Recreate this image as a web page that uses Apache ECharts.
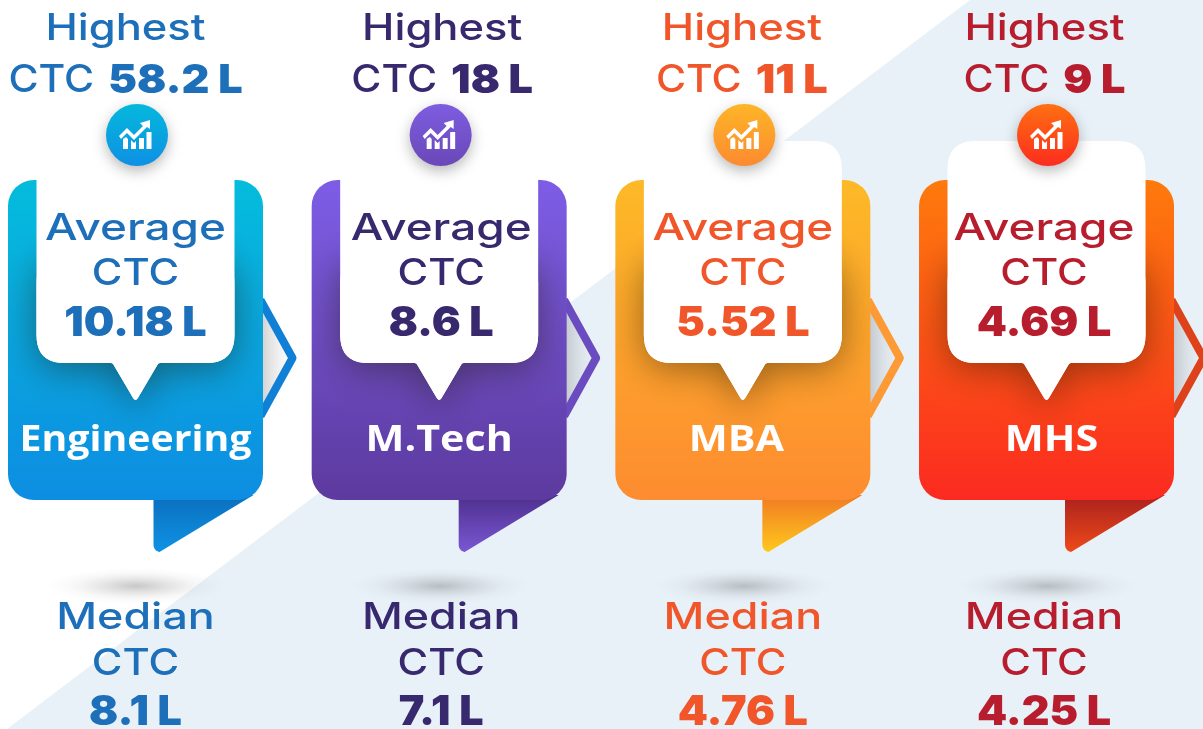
<!DOCTYPE html>
<html><head><meta charset="utf-8">
<style>html,body{margin:0;padding:0;background:#fff}#c{width:1203px;height:729px}</style>
<script src="https://cdn.jsdelivr.net/npm/echarts@6/dist/echarts.min.js"></script>
</head><body><div id="c"></div>
<script>
const categories = ['Engineering', 'M.Tech', 'MBA', 'MHS'];
const highestCTC = [58.2, 18, 11, 9];
const averageCTC = [10.18, 8.6, 5.52, 4.69];
const medianCTC = [8.1, 7.1, 4.76, 4.25];
const textColors = ['#1c6fb8', '#38296f', '#f0562a', '#b81d2e'];
const cardTop = ['#04bcdc', '#7d5de6', '#fdb927', '#fe7a0c'];
const cardBottom = ['#0d8de2', '#5c3a9e', '#fd8c30', '#fb2a20'];
const tailTop = ['#0a6fbd', '#4d2f8c', '#f07a25', '#aa201f'];
const tailBottom = ['#0f92e4', '#7a57d4', '#ffc81c', '#ee4a18'];
const chevronColors = ['#0f80d6', '#6b4cc0', '#fd9a35', '#de421a'];
const iconTop = ['#05b8dc', '#7d5de0', '#fdb527', '#fe7012'];
const iconBottom = ['#0e90e4', '#6a48b8', '#fd8a30', '#fc2c1e'];
const FONT = 'Inter, sans-serif';

// column-specific nudges in the layout (not data)
const highNudge = [-10, 3, -1, -2];
const textNudge = [0, 2, 0, -2.5];
const catNudge = [0, 0, -6.5, 5];
const catScale = [1.09, 1.145, 1.15, 1.15];
const tailNudge = [0, 1.5, 1.5, 0.5];

function rounded(pts, rs) {
  const out = [];
  pts.forEach((p, i) => {
    const a = pts[(i + pts.length - 1) % pts.length], b = pts[(i + 1) % pts.length];
    const r = rs[i];
    if (!r) { out.push(p); return; }
    const la = Math.hypot(a[0]-p[0], a[1]-p[1]), lb = Math.hypot(b[0]-p[0], b[1]-p[1]);
    const s = [p[0]+(a[0]-p[0])*r/la, p[1]+(a[1]-p[1])*r/la];
    const e = [p[0]+(b[0]-p[0])*r/lb, p[1]+(b[1]-p[1])*r/lb];
    for (let t = 0; t <= 10; t++) {
      const u = t/10;
      out.push([(1-u)*(1-u)*s[0]+2*u*(1-u)*p[0]+u*u*e[0], (1-u)*(1-u)*s[1]+2*u*(1-u)*p[1]+u*u*e[1]]);
    }
  });
  return out;
}
const grad = (a, b) => new echarts.graphic.LinearGradient(0, 0, 0, 1, [{offset:0,color:a},{offset:1,color:b}]);

function label(text, x, y, color, size, weight, sx) {
  return {type:'text', x, y, scaleX:sx, style:{text, x:0, y:0, fill:color, font:`${weight} ${size}px ${FONT}`, textAlign:'center', textVerticalAlign:'middle'}};
}

function renderItem(params, api) {
  const i = api.value(0);
  const o = api.coord([i, 0]);
  const c = textColors[i];
  const tx = textNudge[i];
  const outline = top => rounded([[-99,top],[99,top],[99,363],[23,363],[0,402],[-23,363],[-99,363]], [28,28,28,2,5,2,28]);
  const tn = tailNudge[i];
  const kids = [
    {type:'circle', x:1, y:586, scaleX:5, shape:{cx:0,cy:0,r:18},
      style:{fill:new echarts.graphic.RadialGradient(0.5,0.5,0.5,[{offset:0,color:'rgba(70,70,70,0.3)'},{offset:0.35,color:'rgba(90,90,90,0.17)'},{offset:0.7,color:'rgba(120,120,120,0.05)'},{offset:1,color:'rgba(140,140,140,0)'}])}},
    {type:'polygon', shape:{points:[[127,305],[158,358],[127,413]]},
      style:{fill:new echarts.graphic.LinearGradient(0,0,1,0,[{offset:0,color:'rgba(130,130,130,0.35)'},{offset:1,color:'rgba(200,200,200,0)'}])}},
    {type:'polyline', shape:{points:[[125,300],[157,358],[125,416]]},
      style:{stroke:chevronColors[i],lineWidth:8,fill:null,lineJoin:'round'}},
    {type:'polygon', shape:{points:rounded([[18+tn,495],[118+tn,495],[24+tn,552],[18+tn,552]],[0,0,0,8])},
      style:{fill:grad(tailTop[i],tailBottom[i])}},
    {type:'rect', shape:{x:-127.5,y:180,width:255,height:320,r:26}, style:{fill:grad(cardTop[i],cardBottom[i])}},
    {type:'polygon', shape:{points:outline(255)},
      clipPath:{type:'rect', shape:{x:-127.5,y:180,width:255,height:320,r:26}},
      style:{fill:'#fff',shadowBlur:36,shadowColor:'rgba(30,20,0,0.46)',shadowOffsetY:6}},
    {type:'polygon', shape:{points:outline(141)}, style:{fill:'#fff'}},
    {type:'circle', shape:{cx:1.5,cy:135,r:31},
      style:{fill:grad(iconTop[i],iconBottom[i]),shadowBlur:14,shadowColor:'rgba(0,0,0,0.28)',shadowOffsetY:5}},
    {type:'group', x:1.5, y:135, children:[
      {type:'polygon',shape:{points:[[-18,1],[-10,-7],[-3,0],[6,-9],[3,-12],[13,-15],[13,-6],[10,-8],[-3,5],[-10,-2],[-16,4]]},style:{fill:'#fff'}},
      {type:'polygon',shape:{points:[[-14,4],[-11,2],[-9,4],[-9,14],[-14,14]]},style:{fill:'#fff'}},
      {type:'polygon',shape:{points:[[-6,5],[-3,8],[-1,6],[-1,14],[-6,14]]},style:{fill:'#fff'}},
      {type:'rect',shape:{x:2,y:3,width:5,height:11},style:{fill:'#fff'}},
      {type:'rect',shape:{x:9.5,y:-3,width:5,height:17},style:{fill:'#fff'}}
    ]},
    label('Highest', highNudge[i], 29, c, 37, 500, 1.175),
    {type:'text', x:highNudge[i], y:81, scaleX:1.08, style:{
      x:0, y:0, textAlign:'center', textVerticalAlign:'middle',
      text:`{a|CTC}{b|${api.value(1)} L}`,
      rich:{a:{fill:c,font:`500 38px ${FONT}`,padding:[0,13,0,0]},b:{fill:c,font:`900 40px ${FONT}`}}
    }},
    label('Average', tx, 229, c, 37, 500, 1.24),
    label('CTC', tx, 274, c, 37, 500, 1.13),
    label(api.value(2) + ' L', tx, 324, c, 41, 900, 1.05),
    {type:'text', x:catNudge[i], y:441, scaleX:catScale[i], style:{text:categories[i], x:0, y:0, fill:'#fff',
      font:'700 36px "Open Sans", sans-serif', textAlign:'center', textVerticalAlign:'middle'}},
    label('Median', tx, 618, c, 37, 500, 1.21),
    label('CTC', tx, 664, c, 37, 500, 1.13),
    label(api.value(3) + ' L', tx, 713, c, 41, 900, 1.05)
  ];
  return {type:'group', x:o[0], y:o[1], children:kids};
}

const chart = echarts.init(document.getElementById('c'), null, {renderer:'canvas'});
chart.setOption({
  animation:false,
  backgroundColor:'#fff',
  graphic:[{type:'polygon', z:-10, silent:true,
    shape:{points:[[970,0],[1203,0],[1203,729],[7,729]]}, style:{fill:'#e8f1f8'}}],
  grid:{left:0,top:0,right:0,bottom:0},
  xAxis:{type:'value',min:-0.4462,max:3.5153,show:false},
  yAxis:{type:'value',min:0,max:729,inverse:true,show:false},
  series:[{type:'custom',coordinateSystem:'cartesian2d',clip:false,encode:{x:0,y:1},
    renderItem,
    data:categories.map((n,i)=>[i,highestCTC[i],averageCTC[i],medianCTC[i]])}]
});
</script></body></html>
